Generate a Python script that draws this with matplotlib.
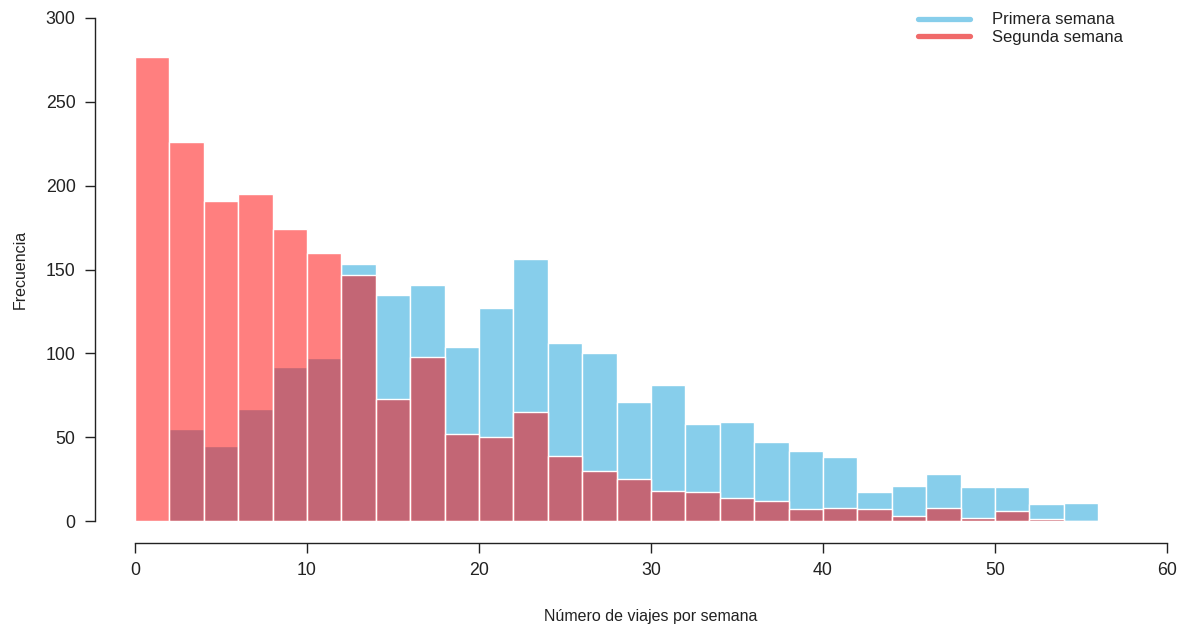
import numpy as np
import matplotlib
matplotlib.use("Agg")
import matplotlib.pyplot as plt
from matplotlib.lines import Line2D

plt.rcParams['font.family'] = ['Liberation Sans', 'DejaVu Sans']

# Bin edges (trips per week), width 2
bin_edges = list(range(0, 58, 2))

# Counts per bin
primera = [0, 55, 45, 67, 92, 97, 153, 135, 141, 104, 127, 156, 106, 100,
           71, 81, 58, 59, 47, 42, 38, 17, 21, 28, 20, 20, 10, 11]
segunda = [277, 226, 191, 195, 174, 160, 147, 73, 98, 52, 50, 65, 39, 30,
           25, 18, 17, 14, 12, 7, 8, 7, 3, 8, 2, 6, 1, 0]

labels = ["Primera semana", "Segunda semana"]
xticks = [0, 10, 20, 30, 40, 50, 60]
yticks = [0, 50, 100, 150, 200, 250, 300]

W, H = 1180, 628
fig = plt.figure(figsize=(W / 100, H / 100), dpi=100)
ax = fig.add_axes([135 / W, (H - 521) / H, (1167 - 135) / W, 503 / H])

left = bin_edges[:-1]
width = [bin_edges[i + 1] - bin_edges[i] for i in range(len(left))]
ax.bar(left, primera, width=width, align='edge', color='#87CEEB',
       edgecolor='white', linewidth=1.0)
ax.bar(left, segunda, width=width, align='edge', color=(1, 0, 0, 0.5),
       edgecolor='white', linewidth=1.0)

ax.set_xlim(0, 60)
ax.set_ylim(0, 300)
ax.set_xticks(xticks)
ax.set_yticks(yticks)

tc = '#222222'
for s in ['top', 'right']:
    ax.spines[s].set_visible(False)
ax.spines['bottom'].set_position(('outward', 22 * 0.72))
ax.spines['left'].set_position(('outward', 40 * 0.72))
ax.spines['bottom'].set_bounds(0, 60)
ax.spines['left'].set_bounds(0, 300)
for s in ['bottom', 'left']:
    ax.spines[s].set_color(tc)
    ax.spines[s].set_linewidth(1.0)
ax.tick_params(axis='both', direction='out', length=7, width=1.0,
               colors=tc, labelsize=12.8, pad=7)

ax.set_xlabel("Número de viajes por semana", fontsize=11.5, color=tc,
              labelpad=21)
ax.set_ylabel("Frecuencia", fontsize=11.5, color=tc, labelpad=13)

handles = [Line2D([0], [0], color='#87CEEB', lw=3.8, solid_capstyle='round'),
           Line2D([0], [0], color='#F06A6A', lw=3.8, solid_capstyle='round')]
fig.legend(handles, labels, loc='upper left',
           bbox_to_anchor=(905 / W, 1 + 1 / H), frameon=False,
           fontsize=12, handlelength=3.1, handletextpad=1.3,
           labelspacing=0.15, borderpad=0.3, labelcolor=tc)

fig.savefig("out.png", dpi=100)
